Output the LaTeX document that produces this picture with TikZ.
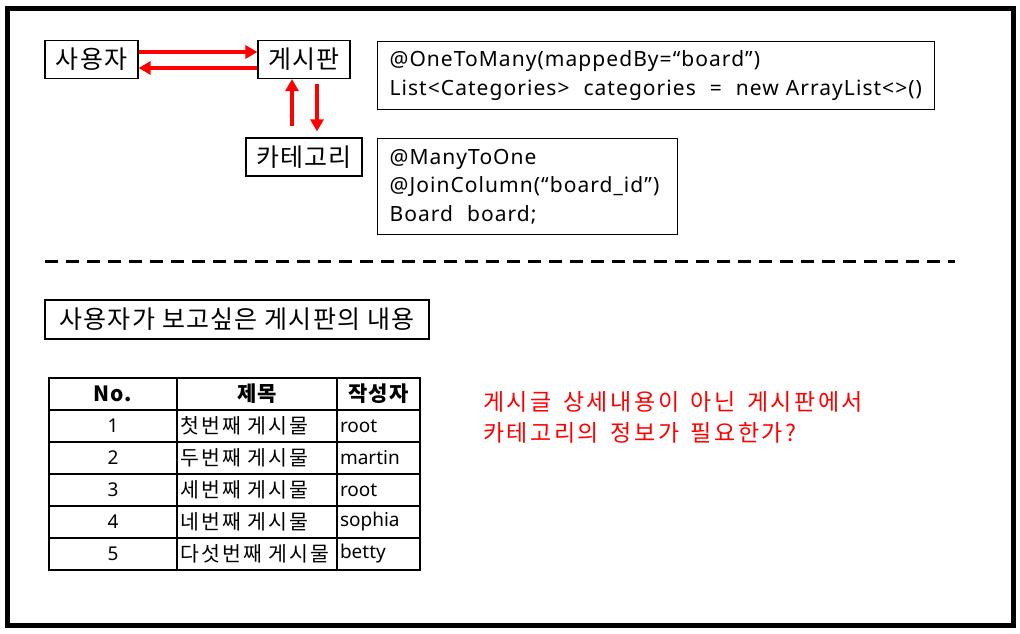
\documentclass[tikz,border=0pt]{standalone}
\usepackage{fontspec}
\setmainfont{Noto Sans}
\newfontfamily\kr[LetterSpace=5]{Noto Sans CJK KR}
\newfontfamily\krwide[LetterSpace=11,WordSpace=1.5]{Noto Sans CJK KR}
\newfontfamily\code[LetterSpace=5]{Noto Sans}
\usetikzlibrary{arrows.meta,positioning}
\definecolor{qred}{RGB}{255,0,0}

\tikzset{
  entity/.style={draw, line width=1.2pt, minimum height=38pt, inner sep=0pt,
                 font=\kr\fontsize{25}{28}\selectfont},
  codebox/.style={draw, line width=1.2pt, inner xsep=12pt, align=left, anchor=north west,
                  font=\code\fontsize{21}{28.5}\selectfont},
  link/.style={draw=qred, line width=4pt, -{Triangle[length=12pt,width=13pt]}},
  cell/.style={draw, line width=1.2pt, minimum height=32pt, inner ysep=0pt, inner xsep=3pt,
               font=\fontsize{19}{22}\selectfont},
}

\begin{document}
\begin{tikzpicture}[x=1pt, y=-1pt]
  \useasboundingbox (0,0) rectangle (1020,634);
  \draw[line width=5pt] (7.5,8.5) rectangle (1013.5,625.5);

  % entities and their links
  \node[entity, minimum width=93pt] (user) at (91.5,59.5) {사용자};
  \node[entity, minimum width=92pt] (board) at (304,59.5) {게시판};
  \node[entity, minimum width=116pt] (category) at (304,157) {카테고리};

  \draw[link] ([yshift=7.5pt]user.east) -- ([yshift=7.5pt]board.west);
  \draw[link] ([yshift=-8.5pt]board.west) -- ([yshift=-8.5pt]user.east);
  \draw[link] ([xshift=-12pt,yshift=11pt]category.north) -- ([xshift=-12pt]board.south);
  \draw[link] ([xshift=13pt,yshift=-5pt]board.south) -- ([xshift=13pt,yshift=6pt]category.north);

  % mapping code
  \node[codebox, minimum width=557pt, minimum height=68pt, text width=533pt] (manyside) at (377,41)
    {\raisebox{-2pt}{@OneToMany(mappedBy=“board”)}\\\raisebox{-2pt}{List<Categories>\ \ categories\ \ =\ \ new ArrayList<>()}};
  \node[codebox, minimum width=300pt, minimum height=96pt, text width=276pt] (oneside) at (377,138)
    {@ManyToOne\\@JoinColumn(“board\_id”)\\Board\ \ board;};

  \coordinate (sepL) at (45,261);
  \coordinate (sepR) at (955,261);
  \draw[line width=3pt, dash pattern=on 12.5pt off 8.5pt] (sepL) -- (sepR);

  \node[draw, line width=1.2pt, minimum width=384pt, minimum height=39pt, inner sep=0pt,
        font=\kr\fontsize{25}{28}\selectfont] (heading) at (237,319.5) {사용자가 보고싶은 게시판의 내용};

  % board list
  \node[cell, minimum width=128pt] (no-0) at (113,394) {\kr\bfseries\fontsize{21}{22}\selectfont No.};
  \node[cell, minimum width=160pt] (title-0) at (257,394) {\kr\bfseries\fontsize{21}{22}\selectfont 제목};
  \node[cell, minimum width=83pt] (writer-0) at (378.5,394) {\kr\bfseries\fontsize{21}{22}\selectfont 작성자};
  \foreach \title/\writer [count=\r] in {첫번째 게시물/root, 두번째 게시물/martin,
      세번째 게시물/root, 네번째 게시물/sophia, 다섯번째 게시물/betty} {
    \node[cell, minimum width=128pt] (no-\r) at (113,394+32*\r) {\r};
    \node[cell, text width=154pt, align=left] (title-\r) at (257,394+32*\r)
      {\krwide\fontsize{20.5}{22}\selectfont\title};
    \node[cell, text width=77pt, align=left] (writer-\r) at (378.5,394+32*\r) {\writer};
  }

  \node[anchor=west, text=qred, align=left, inner sep=0pt, font=\krwide\fontsize{23}{31}\selectfont] (question) at (483,417)
    {게시글 상세내용이 아닌 게시판에서\\카테고리의 정보가 필요한가?};
\end{tikzpicture}
\end{document}
